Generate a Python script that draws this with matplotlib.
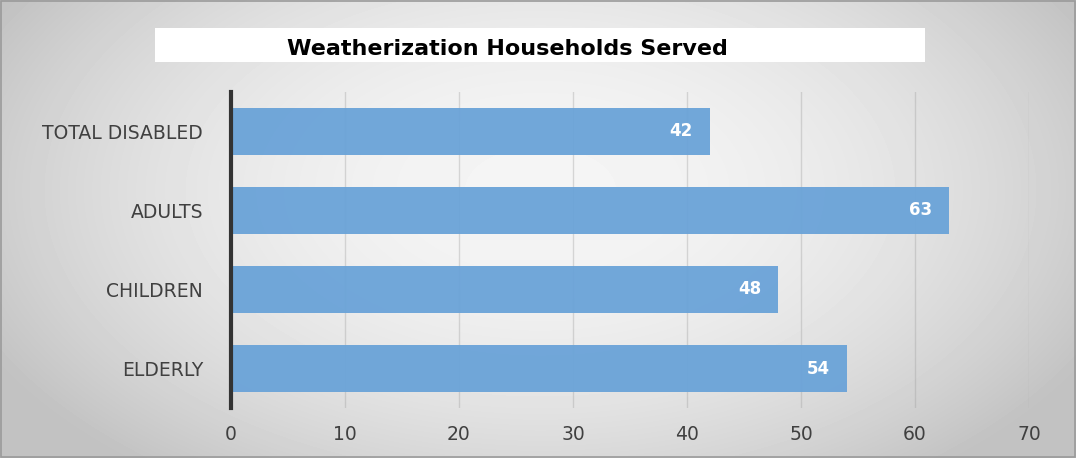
import numpy as np
import matplotlib.pyplot as plt
from matplotlib.patches import Rectangle

categories = ['ELDERLY', 'CHILDREN', 'ADULTS', 'TOTAL DISABLED']
values = [54, 48, 63, 42]
xticks = [0, 10, 20, 30, 40, 50, 60, 70]
title = 'Weatherization Households Served'

W, H = 1076, 458
fig = plt.figure(figsize=(W / 100, H / 100), dpi=100)

# radial grey background
bg = fig.add_axes([0, 0, 1, 1])
yy, xx = np.mgrid[0:H, 0:W]
r = np.sqrt(((xx - 540) / 620.0) ** 2 + ((yy - 190) / 360.0) ** 2)
shade = np.clip(0.96 - 0.2 * r ** 2, 0.76, 1)
bg.imshow(shade, cmap='gray', vmin=0, vmax=1, extent=[0, W, H, 0], aspect='auto')
bg.add_patch(Rectangle((155, 28), 770, 34, color='white', lw=0))
bg.add_patch(Rectangle((0.5, 0.5), W - 2, H - 2, fill=False, ec='#9a9a9a', lw=1.2))
bg.set_xlim(0, W)
bg.set_ylim(H, 0)
bg.axis('off')
bg.text(507, 49, title, ha='center', va='center', fontsize=16,
        fontweight='bold', family='DejaVu Sans', color='black')

ax = fig.add_axes([231 / W, 1 - 408 / H, (1029 - 231) / W, (408 - 92) / H])
ax.patch.set_alpha(0)
y = np.arange(len(categories))
ax.barh(y, values, height=0.6, color='#6aa3d8', alpha=0.95, zorder=3)
for yi, v in zip(y, values):
    ax.annotate(str(v), (v, yi), xytext=(-17, 0), textcoords='offset pixels',
                ha='right', va='center', color='white', fontweight='bold',
                fontsize=12, family='DejaVu Sans', zorder=5)

ax.set_xlim(0, 70)
ax.set_ylim(-0.5, 3.5)
ax.set_xticks(xticks)
ax.set_yticks(y)
ax.set_yticklabels(categories)
ax.grid(axis='x', color='#9c9c9c', lw=1, zorder=1)
ax.xaxis.grid(True, zorder=4, alpha=0.35)
for s in ['top', 'right', 'bottom']:
    ax.spines[s].set_visible(False)
ax.spines['left'].set_color('#333333')
ax.spines['left'].set_linewidth(3)
ax.spines['left'].set_zorder(6)
ax.tick_params(length=0, labelsize=13.5, colors='#404040')
ax.tick_params(axis='y', pad=20)
ax.tick_params(axis='x', pad=12)

fig.savefig('out.png', dpi=100)
